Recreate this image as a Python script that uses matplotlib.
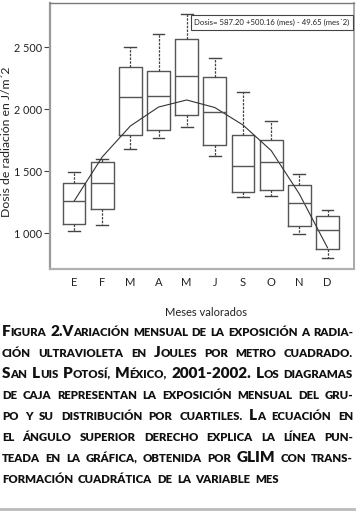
import matplotlib
matplotlib.use("Agg")
import matplotlib.pyplot as plt
from matplotlib.ticker import FuncFormatter

# ---------------- data ----------------
months = ["E", "F", "M", "A", "M", "J", "S", "O", "N", "D"]
whislo = [1016, 1065, 1675, 1764, 1857, 1621, 1290, 1296, 990, 801]
q1 = [1070, 1191, 1792, 1831, 1949, 1710, 1331, 1344, 1054, 871]
med = [1256, 1400, 2094, 2105, 2269, 1973, 1538, 1570, 1242, 1024]
q3 = [1405, 1570, 2341, 2309, 2565, 2255, 1790, 1749, 1385, 1135]
whishi = [1494, 1594, 2502, 2602, 2764, 2414, 2135, 1906, 1478, 1183]
fitted = [1256, 1613, 1863, 2016, 2073, 2012, 1871, 1665, 1315, 881]
yticks = [1000, 1500, 2000, 2500]

equation = "Dosis= 587.20 +500.16 (mes) - 49.65 (mes´2)"
ylabel = "Dosis de radiación en J/m´2"
xlabel = "Meses valorados"
caption_lines = [
    "Figura 2.Variación mensual de la exposición a radia-",
    "ción ultravioleta en Joules por metro cuadrado.",
    "San Luis Potosí, México, 2001-2002. Los diagramas",
    "de caja representan la exposición mensual del gru-",
    "po y su distribución por cuartiles. La ecuación en",
    "el ángulo superior derecho explica la línea pun-",
    "teada en la gráfica, obtenida por GLIM con trans-",
    "formación cuadrática de la variable mes",
]

plt.rcParams['font.family'] = ['Lato', 'DejaVu Sans']

W, H = 358, 514
fig = plt.figure(figsize=(W / 100, H / 100), dpi=100)
ax = fig.add_axes([50 / W, 1 - 268.5 / H, 304 / W, 265.5 / H])

positions = list(range(1, len(months) + 1))
stats = [dict(whislo=a, q1=b, med=c, q3=d, whishi=e)
         for a, b, c, d, e in zip(whislo, q1, med, q3, whishi)]
ax.bxp(stats, positions=positions, widths=0.81, capwidths=0.42,
       showfliers=False, manage_ticks=False,
       boxprops=dict(color='#555555', lw=1.0),
       medianprops=dict(color='#555555', lw=1.0),
       whiskerprops=dict(color='#444444', lw=0.9, ls=(0, (2, 1))),
       capprops=dict(color='#444444', lw=1.0))
ax.plot(positions, fitted, color='#333333', lw=0.8)

ax.set_xlim(0.148, 10.94)
ax.set_ylim(714, 2855)
ax.set_xticks(positions)
ax.set_xticklabels(months)
ax.set_yticks(yticks)
ax.yaxis.set_major_formatter(FuncFormatter(lambda v, p: f"{int(v):,}".replace(",", " ")))
ax.tick_params(axis='x', length=0, pad=6.0, labelsize=8, colors='#222222')
ax.tick_params(axis='y', length=4.5, width=0.8, pad=1.5, labelsize=7.8,
               color='#444444', labelcolor='#222222')
for side, col, lw in [('left', '#9a9a9a', 1.6), ('top', '#7a7a7a', 1.0),
                      ('right', '#9a9a9a', 1.2), ('bottom', '#b0b0b0', 1.6)]:
    ax.spines[side].set_color(col)
    ax.spines[side].set_linewidth(lw)

fig.text(272 / W, 1 - 22.5 / H, equation, ha='center', va='center', fontsize=5.6,
         color='#222222',
         bbox=dict(boxstyle='square,pad=0.45', fc='white', ec='#444444', lw=0.8))
fig.text(7.0 / W, 1 - 142 / H, ylabel, rotation=90, ha='center', va='center',
         fontsize=8.8, color='#222222')
fig.text(206 / W, 1 - 312 / H, xlabel, ha='center', va='center',
         fontsize=8, color='#222222')

# ---------------- small-caps justified caption ----------------
renderer = fig.canvas.get_renderer()
cap_family = ['Lato', 'DejaVu Sans']
cap_weight = 'heavy'


def runs_of(word):
    out = []
    prev_big = True
    for ch in word:
        if ch.isalpha():
            big = ch.isupper()
        elif ch.isdigit():
            big = True
        else:
            big = prev_big
        prev_big = big
        c = ch if big else ch.upper()
        if out and out[-1][1] == big:
            out[-1][0] += c
        else:
            out.append([c, big])
    return out


def measure(s, size):
    t = fig.text(0, 0, s, fontsize=size, fontweight=cap_weight, family=cap_family)
    w = t.get_window_extent(renderer).width
    t.remove()
    return w


x0, x1 = 2.0, 353.0
avail = x1 - x0
big_size, small_size = 10.0, 7.4


def layout(bs, ss):
    lines = []
    for line in caption_lines:
        words = []
        for wd in line.split(" "):
            rs = runs_of(wd)
            ws = [measure(s, bs if b else ss) for s, b in rs]
            words.append((rs, ws, sum(ws)))
        lines.append(words)
    return lines


lines = layout(big_size, small_size)
mingap = 3.8
scale = min((avail - mingap * (len(words) - 1)) / sum(w[2] for w in words)
            for words in lines[:-1])
big_size *= scale
small_size *= scale
lines = layout(big_size, small_size)

baseline0 = 336.0
spacing = 21.0
for i, words in enumerate(lines):
    nat = sum(w[2] for w in words)
    if i < len(lines) - 1:
        gap = (avail - nat) / (len(words) - 1)
    else:
        gap = mingap + 1.0
    x = x0
    yb = baseline0 + i * spacing
    for rs, ws, tot in words:
        xx = x
        for (s, b), w in zip(rs, ws):
            fig.text(xx / W, 1 - yb / H, s, fontsize=big_size if b else small_size,
                     fontweight=cap_weight, family=cap_family,
                     ha='left', va='baseline', color='#111111')
            xx += w
        x += tot + gap

fig.add_artist(plt.Line2D([0, 354 / W], [1 - 509 / H, 1 - 509 / H],
                          color='#bbbbbb', lw=2.0, transform=fig.transFigure))

fig.savefig("out.png", dpi=100)
